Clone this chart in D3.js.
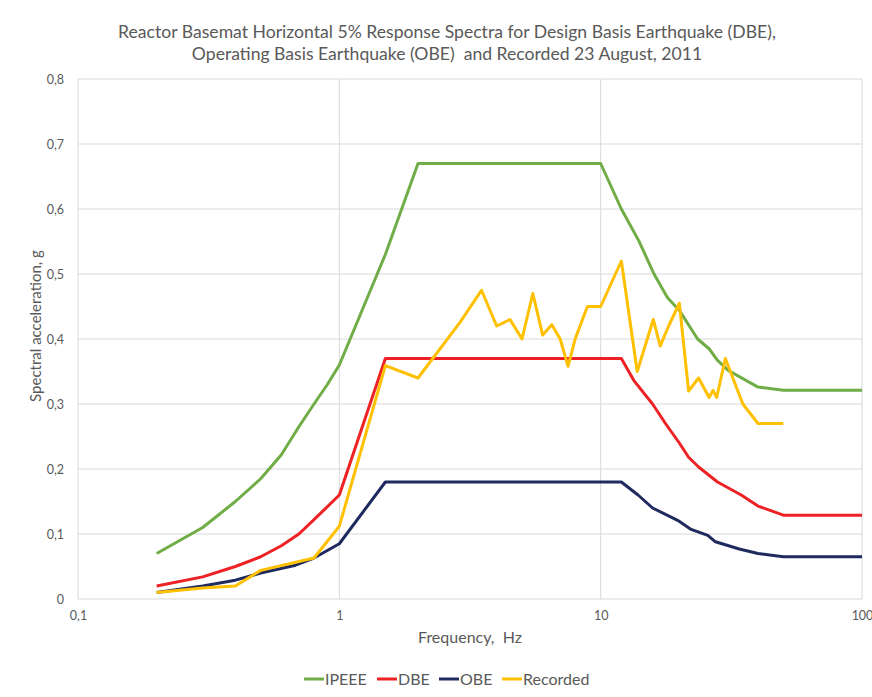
<!DOCTYPE html>
<html>
<head>
<meta charset="utf-8">
<script src="https://cdn.jsdelivr.net/npm/d3@7"></script>
<style>
  body { margin: 0; background: #fff; }
  text { font-family: Lato, "Open Sans", sans-serif; fill: #595959; white-space: pre; }
</style>
</head>
<body>
<svg id="chart" width="872" height="697"></svg>
<script>
// series data: [frequency Hz, acceleration g]
const ipeee = [[0.2,0.07],[0.3,0.11],[0.4,0.15],[0.5,0.185],[0.6,0.222],[0.7,0.265],[0.8,0.30],[0.9,0.33],[1,0.36],
  [1.5,0.53],[2,0.67],[10,0.67],[12,0.60],[14,0.551],[16,0.50],[18,0.464],[20,0.444],[23.5,0.40],[26,0.385],
  [28,0.367],[30.7,0.352],[40,0.326],[50,0.321],[100,0.321]];
const dbe = [[0.2,0.02],[0.3,0.034],[0.4,0.05],[0.5,0.065],[0.6,0.082],[0.7,0.10],[0.8,0.122],[1,0.16],
  [1.5,0.37],[12,0.37],[13.4,0.336],[15.8,0.30],[17.7,0.27],[20,0.24],[21.7,0.218],[23.7,0.203],[28,0.18],
  [34.5,0.16],[40,0.143],[50,0.129],[100,0.129]];
const obe = [[0.2,0.01],[0.3,0.02],[0.4,0.029],[0.5,0.04],[0.68,0.052],[0.8,0.063],[1,0.085],
  [1.5,0.18],[12,0.18],[13.9,0.16],[15.8,0.14],[19.7,0.121],[22.2,0.107],[25.7,0.098],[27.5,0.088],
  [33.9,0.077],[40,0.07],[50,0.065],[100,0.065]];
const recorded = [[0.2,0.01],[0.3,0.017],[0.4,0.02],[0.5,0.044],[0.8,0.063],[1,0.112],[1.5,0.359],[2,0.34],
  [2.9,0.426],[3.5,0.475],[4,0.42],[4.5,0.43],[5,0.40],[5.5,0.47],[6,0.406],[6.5,0.422],[7,0.40],[7.5,0.358],
  [8,0.401],[8.9,0.45],[10,0.45],[12,0.52],[13.8,0.35],[15.9,0.43],[16.9,0.389],[18.2,0.42],[20,0.455],
  [21.7,0.32],[23.7,0.34],[26,0.31],[26.9,0.321],[27.8,0.31],[30,0.37],[35,0.30],[40,0.27],[50,0.27]];

const seriesNames = ["IPEEE", "DBE", "OBE", "Recorded"];
const seriesData = [ipeee, dbe, obe, recorded];
const colors = ["#70ad47", "#ee2225", "#1f2a5e", "#ffc000"];
const xTicks = [0.1, 1, 10, 100];
const yTicks = [0, 0.1, 0.2, 0.3, 0.4, 0.5, 0.6, 0.7, 0.8];
const titleLines = ["Reactor Basemat Horizontal 5% Response Spectra for Design Basis Earthquake (DBE),",
  "Operating Basis Earthquake (OBE)  and Recorded 23 August, 2011"];

let margin = { top: 79, right: 10, bottom: 98, left: 78 },
    width = 872 - margin.left - margin.right,
    height = 697 - margin.top - margin.bottom;

let svg = d3.select('#chart');
let g = svg.append('g')
    .attr('transform', 'translate(' + margin.left + ',' + margin.top + ')');

let xScale = d3.scaleLog().domain([0.1, 100]).range([0, width]);
let yScale = d3.scaleLinear().domain([0, 0.8]).range([height, 0]);

let fmt = d => String(d).replace('.', ',');

// gridlines
g.selectAll('.hgrid').data(yTicks).enter().append('line')
    .attr('x1', 0).attr('x2', width)
    .attr('y1', d => yScale(d)).attr('y2', d => yScale(d))
    .attr('stroke', '#d9d9d9').attr('stroke-width', 1);
g.selectAll('.vgrid').data(xTicks).enter().append('line')
    .attr('x1', d => xScale(d)).attr('x2', d => xScale(d))
    .attr('y1', 0).attr('y2', height)
    .attr('stroke', '#d9d9d9').attr('stroke-width', 1);

// axes
let xAxis = g.append('g')
    .attr('transform', 'translate(0,' + height + ')')
    .call(d3.axisBottom(xScale).tickValues(xTicks).tickSize(0).tickPadding(12).tickFormat(fmt));
let yAxis = g.append('g')
    .call(d3.axisLeft(yScale).tickValues(yTicks).tickSize(0).tickPadding(14).tickFormat(fmt));
xAxis.select('.domain').remove();
yAxis.select('.domain').remove();
g.selectAll('.tick text')
    .style('font-family', 'Lato, "Open Sans", sans-serif')
    .style('font-size', '12.5px')
    .attr('fill', '#595959');

// lines
let line = d3.line()
    .x(d => xScale(d[0]))
    .y(d => yScale(d[1]));

seriesData.forEach((data, i) => {
    g.append('path')
        .datum(data)
        .attr('d', line)
        .attr('fill', 'none')
        .attr('stroke', colors[i])
        .attr('stroke-width', 3)
        .attr('stroke-linejoin', 'round');
});

// title
svg.append('g').selectAll('text').data(titleLines).enter().append('text')
    .attr('x', 447)
    .attr('y', (d, i) => 38 + i * 22)
    .attr('text-anchor', 'middle')
    .style('font-size', '17.6px')
    .text(d => d);

// axis labels
svg.append('text')
    .attr('x', margin.left + width / 2)
    .attr('y', 643)
    .attr('text-anchor', 'middle')
    .style('font-size', '16px')
    .text('Frequency,  Hz');

svg.append('text')
    .attr('transform', 'translate(41,326) rotate(-90)')
    .attr('text-anchor', 'middle')
    .style('font-size', '15px')
    .text('Spectral acceleration, g');

// legend
let legendX = [304, 377, 439, 502];
let legend = svg.append('g').attr('transform', 'translate(0,679)');
seriesNames.forEach((name, i) => {
    legend.append('line')
        .attr('x1', legendX[i]).attr('x2', legendX[i] + 20)
        .attr('y1', 0).attr('y2', 0)
        .attr('stroke', colors[i]).attr('stroke-width', 3);
    legend.append('text')
        .attr('x', legendX[i] + 21)
        .attr('y', 5.5)
        .style('font-size', '16px')
        .text(name);
});
</script>
</body>
</html>
